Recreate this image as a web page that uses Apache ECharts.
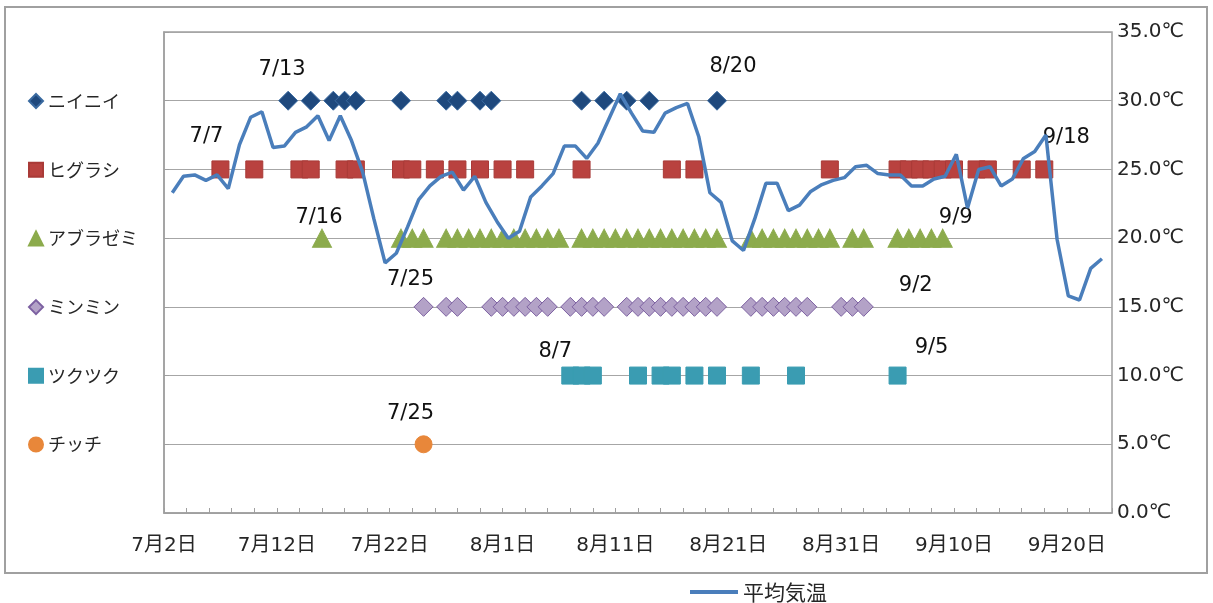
<!DOCTYPE html>
<html><head><meta charset="utf-8">
<script src="https://cdn.jsdelivr.net/npm/echarts@6/dist/echarts.min.js"></script>
<style>html,body{margin:0;padding:0;background:#fff}#c{width:1213px;height:603px}</style>
</head><body><div id="c"></div>
<script>
// ---------------- data ----------------
const seriesNames = ['ニイニイ','ヒグラシ','アブラゼミ','ミンミン','ツクツク','チッチ'];
const rowLevels = [30, 25, 20, 15, 10, 5];

const niinii = ['7/13','7/15','7/17','7/18','7/19','7/23','7/27','7/28','7/30','7/31',
  '8/8','8/10','8/12','8/14','8/20'];
const higurashi = ['7/7','7/10','7/14','7/15','7/18','7/19','7/23','7/24','7/26','7/28','7/30',
  '8/1','8/3','8/8','8/16','8/18','8/30','9/5','9/6','9/7','9/8','9/9','9/10','9/12','9/13','9/16','9/18'];
const aburazemi = ['7/16','7/23','7/24','7/25',
  '7/27','7/28','7/29','7/30','7/31','8/1','8/2','8/3','8/4','8/5','8/6',
  '8/8','8/9','8/10','8/11','8/12','8/13','8/14','8/15','8/16','8/17','8/18','8/19','8/20',
  '8/23','8/24','8/25','8/26','8/27','8/28','8/29','8/30',
  '9/1','9/2','9/5','9/6','9/7','9/8','9/9'];
const minmin = ['7/25','7/27','7/28','7/31','8/1','8/2','8/3','8/4','8/5',
  '8/7','8/8','8/9','8/10','8/12','8/13','8/14','8/15','8/16','8/17','8/18','8/19','8/20',
  '8/23','8/24','8/25','8/26','8/27','8/28','8/31','9/1','9/2'];
const tsukutsuku = ['8/7','8/8','8/9','8/13','8/15','8/16','8/18','8/20','8/23','8/27','9/5'];
const chicchi = ['7/25'];

// daily mean temperature, 7/2 .. 9/23
const tempStartDate = '7/2';
const avgTemp = [
  23.3, 24.5, 24.6, 24.2, 24.6, 23.6, 26.8, 28.8, 29.2, 26.6,
  26.7, 27.7, 28.1, 28.9, 27.1, 28.9, 27.1, 24.8, 21.4, 18.2,
  18.9, 20.8, 22.8, 23.8, 24.5, 24.8, 23.5, 24.5, 22.6, 21.2,
  20.0, 20.5, 23.0, 23.8, 24.7, 26.7, 26.7, 25.8, 26.9, 28.7,
  30.5, 29.1, 27.8, 27.7, 29.1, 29.5, 29.8, 27.4, 23.3, 22.6,
  19.8, 19.1, 21.4, 24.0, 24.0, 22.0, 22.4, 23.4, 23.9, 24.2,
  24.4, 25.2, 25.3, 24.7, 24.6, 24.6, 23.8, 23.8, 24.3, 24.5,
  26.1, 22.2, 25.0, 25.2, 23.8, 24.3, 25.8, 26.3, 27.5, 19.9,
  15.8, 15.5, 17.8, 18.5
];
const lineName = '平均気温';
const yTickValues = [0, 5, 10, 15, 20, 25, 30, 35];

// labelled first/last sightings
const callouts = [
  {s: 0, date: '7/13'}, {s: 0, date: '8/20'},
  {s: 1, date: '7/7'},  {s: 1, date: '9/18'},
  {s: 2, date: '7/16'}, {s: 2, date: '9/9'},
  {s: 3, date: '7/25'}, {s: 3, date: '9/2'},
  {s: 4, date: '8/7'},  {s: 4, date: '9/5'},
  {s: 5, date: '7/25'}
];

// ---------------- styles ----------------
const calloutOffsets = {
  '0-7/13': [-6, -31], '0-8/20': [16, -34],
  '1-7/7': [-14, -33], '1-9/18': [22, -32],
  '2-7/16': [-3, -21], '2-9/9': [13, -21],
  '3-7/25': [-13, -27], '3-9/2': [52, -21],
  '4-8/7': [-15, -24], '4-9/5': [34, -28],
  '5-7/25': [-13, -31]
};
const markStyles = [
  {symbol: 'diamond',  size: 19, color: '#1F497D', border: '#3A6AA0'},
  {symbol: 'rect',     size: 17, color: '#B9423F', border: '#A93A37'},
  {symbol: 'triangle', size: [19, 18], color: '#8CAB4C', border: '#8CAB4C'},
  {symbol: 'diamond',  size: 19, color: '#B3A2C7', border: '#7C60A1'},
  {symbol: 'rect',     size: 17, color: '#3A9CB2', border: '#3A9CB2'},
  {symbol: 'circle',   size: 17, color: '#E8873A', border: '#E8873A'}
];
const lineColor = '#4A7EBB';
const txt = '#262626';
const fontJP = '"Noto Sans CJK JP", "Noto Sans", sans-serif';
const fontAxis = '"DejaVu Sans", "Noto Sans CJK JP", sans-serif';

// ---------------- helpers ----------------
function toDay(s) {
  const [m, d] = s.split('/').map(Number);
  return m === 7 ? d - 2 : m === 8 ? 29 + d : 60 + d;
}
function dayText(i) {
  let m, d;
  if (i <= 29) { m = 7; d = i + 2; } else if (i <= 60) { m = 8; d = i - 29; } else { m = 9; d = i - 60; }
  return m + '月' + d + '日';
}
const markLists = [niinii, higurashi, aburazemi, minmin, tsukutsuku, chicchi];
const startIdx = toDay(tempStartDate);

const scatterSeries = markLists.map((list, si) => {
  const st = markStyles[si];
  return {
    name: seriesNames[si],
    type: 'scatter',
    xAxisIndex: 0,
    symbol: st.symbol,
    symbolSize: st.size,
    itemStyle: {color: st.color, borderColor: st.border, borderWidth: 1, opacity: 1},
    z: 2,
    data: list.map(dt => {
      const item = {value: [toDay(dt), rowLevels[si]]};
      const key = si + '-' + dt;
      if (callouts.some(c => c.s === si && c.date === dt)) {
        item.label = {
          show: true, position: 'inside', offset: calloutOffsets[key],
          formatter: dt, color: '#111', fontSize: 21, fontFamily: '"DejaVu Sans", sans-serif'
        };
      }
      return item;
    })
  };
});

const lineSeries = {
  name: lineName,
  type: 'line',
  xAxisIndex: 1,
  symbol: 'none',
  z: 5,
  lineStyle: {color: lineColor, width: 3.5},
  itemStyle: {color: lineColor},
  data: avgTemp.map((v, i) => [startIdx + i, v])
};

const chart = echarts.init(document.getElementById('c'), null, {renderer: 'canvas'});
chart.setOption({
  animation: false,
  backgroundColor: '#fff',
  graphic: [{
    type: 'rect', shape: {x: 5, y: 7, width: 1202, height: 566},
    style: {fill: 'none', stroke: '#a0a0a0', lineWidth: 2}, silent: true, z: -1
  }],
  grid: {left: 164, right: 101, top: 32, bottom: 90, show: true, borderColor: '#9f9f9f', borderWidth: 1.5},
  legend: [{
    orient: 'vertical', left: 23, top: 87, itemWidth: 14, itemHeight: 14, itemGap: 50.7,
    selectedMode: false,
    textStyle: {fontSize: 18, lineHeight: 18, color: txt, fontFamily: fontJP},
    data: seriesNames.map((n, i) => ({name: n, icon: markStyles[i].symbol}))
  }, {
    orient: 'horizontal', left: 685, top: 576, itemWidth: 48, itemHeight: 4,
    selectedMode: false,
    textStyle: {fontSize: 21, lineHeight: 22, color: txt, fontFamily: fontJP},
    data: [{name: lineName, icon: 'rect'}]
  }],
  xAxis: [{
    type: 'value', min: 0, max: 84, interval: 2,
    axisLine: {show: true, lineStyle: {color: '#9f9f9f', width: 1.5}},
    axisTick: {show: true, inside: true, length: 5, lineStyle: {color: '#9f9f9f'}},
    splitLine: {show: false},
    axisLabel: {
      formatter: v => (v % 10 === 0 ? dayText(v) : ''),
      fontSize: 20, color: txt, fontFamily: fontAxis, margin: 23
    }
  }, {
    type: 'value', min: -0.74, max: 83.9, show: false
  }],
  yAxis: {
    type: 'value', position: 'right', min: yTickValues[0], max: yTickValues[yTickValues.length - 1], interval: 5,
    axisLine: {show: true, lineStyle: {color: '#9f9f9f', width: 1.5}},
    axisTick: {show: true, length: 5, lineStyle: {color: '#9f9f9f'}},
    splitLine: {show: true, lineStyle: {color: '#a6a6a6', width: 1}},
    axisLabel: {
      formatter: v => v.toFixed(1) + '℃',
      fontSize: 20, color: txt, fontFamily: fontAxis, margin: 5
    }
  },
  series: [...scatterSeries, lineSeries]
});
</script>
</body></html>
